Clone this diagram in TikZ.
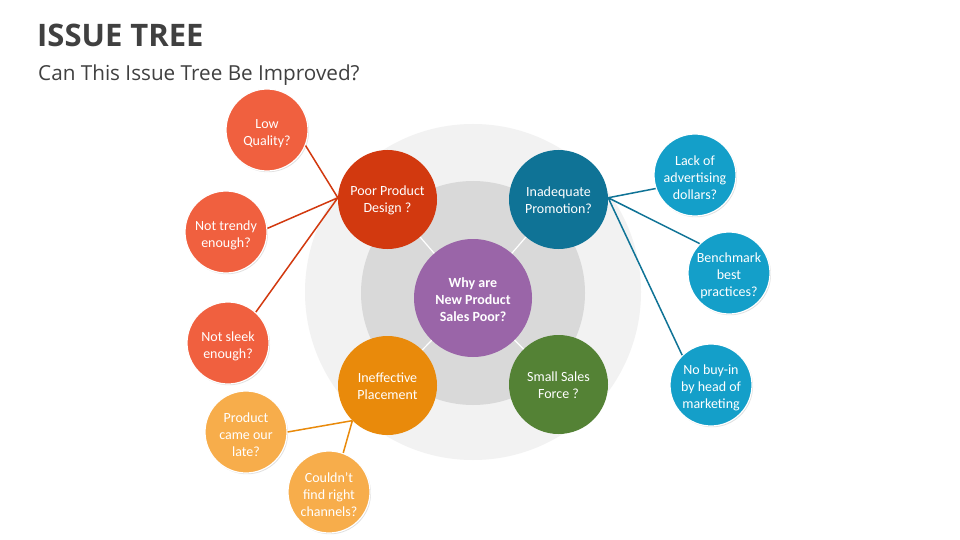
\documentclass[tikz,border=0pt]{standalone}
\usepackage{fontspec}
\setmainfont{Carlito}
\newfontfamily\headfont{Open Sans}
\usetikzlibrary{shadows}
\definecolor{ringout}{HTML}{F2F2F2}
\definecolor{ringin}{HTML}{D9D9D9}
\definecolor{hubcol}{HTML}{9A65A8}
\definecolor{designcol}{HTML}{D2390F}
\definecolor{designleaf}{HTML}{F0603F}
\definecolor{promocol}{HTML}{0F7396}
\definecolor{promoleaf}{HTML}{149FC9}
\definecolor{placecol}{HTML}{E98A0B}
\definecolor{placeleaf}{HTML}{F7AD4B}
\definecolor{salescol}{HTML}{548235}
\definecolor{headcol}{HTML}{404040}
\tikzset{hub/.style={circle, fill=hubcol, minimum size=118pt, inner sep=0pt, text height=48pt, text=white, align=center, font=\bfseries\fontsize{14}{17}\selectfont},
branch/.style={circle, minimum size=99pt, inner sep=0pt, text height=29pt, text=white, align=center, font=\fontsize{14}{17}\selectfont},
leaf/.style={circle, draw=white, line width=1.2pt, minimum size=82pt, inner sep=-2pt, text height=33pt, text=white, align=center, font=\fontsize{14}{17}\selectfont,
  drop shadow={opacity=0.25, shadow xshift=1pt, shadow yshift=-1.2pt}},
deep/.style={text height=50pt},
line/.style={line width=1.5pt},
spoke/.style={white, line width=1.2pt}
}
\begin{document}
\begin{tikzpicture}[x=1pt, y=-1pt]
\useasboundingbox[fill=white] (0,0) rectangle (960,540);

\node[anchor=base west, inner sep=0pt, text=headcol, font=\headfont\bfseries\fontsize{31}{37}\selectfont] (Title) at (37,47) {ISSUE TREE};
\node[anchor=base west, inner sep=0pt, text=headcol, font=\headfont\fontsize{20.7}{25}\selectfont] (Subtitle) at (38,81) {Can This Issue Tree Be Improved?};

% rings
\fill[ringout] (473,292) circle[radius=168pt];
\fill[ringin] (473,293) circle[radius=112pt];

\node[hub] (Issue) at (473,298) {Why are\\New Product\\Sales Poor?};
\node[branch, fill=designcol] (Design) at (387.5,199.5) {Poor Product\\Design ?};
\node[branch, fill=promocol] (Promotion) at (558.5,199.5) {Inadequate\\Promotion?};
\node[branch, fill=placecol] (Placement) at (387.5,385.5) {Ineffective\\Placement};
\node[branch, fill=salescol] (Sales) at (558.5,384.5) {Small Sales\\Force ?};

\node[leaf, fill=designleaf] (Design 1) at (267,130) {Low\\Quality?};
\node[leaf, fill=designleaf] (Design 2) at (226,232) {Not trendy\\enough?};
\node[leaf, fill=designleaf] (Design 3) at (228,343) {Not sleek\\enough?};
\node[leaf, deep, fill=placeleaf] (Placement 1) at (246,432) {Product\\came our\\late?};
\node[leaf, deep, fill=placeleaf] (Placement 2) at (329,492) {Couldn’t\\find right\\channels?};
\node[leaf, deep, fill=promoleaf] (Promotion 1) at (695,175) {Lack of\\advertising\\dollars?};
\node[leaf, deep, fill=promoleaf] (Promotion 2) at (729,273) {Benchmark\\best\\practices?};
\node[leaf, deep, fill=promoleaf] (Promotion 3) at (711,385) {No buy-in\\by head of\\marketing};

\draw[spoke] (Issue)--(Design) (Issue)--(Promotion) (Issue)--(Placement) (Issue)--(Sales);

\draw[line, designcol] (Design.178)--(Design 1.-22) (Design.178)--(Design 2.5) (Design.178)--(Design 3.48);
\draw[line, placecol] (Placement.225)--(Placement 1.east) (Placement.225)--(Placement 2.70);
\draw[line, promocol] (Promotion.2)--(Promotion 1.199) (Promotion.2)--(Promotion 2.135) (Promotion.2)--(Promotion 3.134);
\end{tikzpicture}
\end{document}
